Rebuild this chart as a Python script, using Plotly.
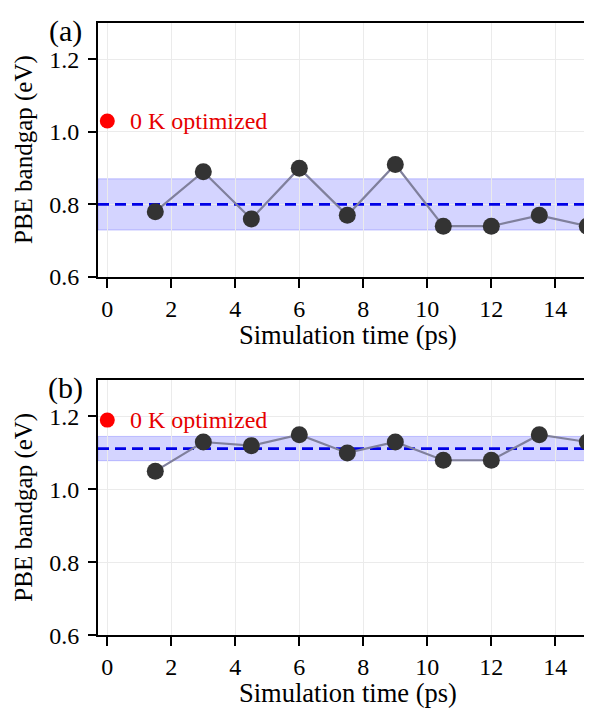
import numpy as np
import plotly.graph_objects as go

# ---- data ----
time_ps = [1.5, 3.0, 4.5, 6.0, 7.5, 9.0, 10.5, 12.0, 13.5, 15.0]
gap_a = [0.78, 0.89, 0.76, 0.90, 0.77, 0.91, 0.74, 0.74, 0.77, 0.74]
gap_b = [1.05, 1.13, 1.12, 1.15, 1.10, 1.13, 1.08, 1.08, 1.15, 1.13]
opt_a = 1.03
opt_b = 1.19
panel_labels = ["(a)", "(b)"]
x_ticks = [0, 2, 4, 6, 8, 10, 12, 14]
y_ticks = [0.6, 0.8, 1.0, 1.2]

# page has an 8px body margin; work in window pixels and shift
OFF = 8
WIN_W, WIN_H = 592, 711
W, H = WIN_W - OFF, WIN_H - OFF
FONT = "Liberation Serif"


def px_x(v):
    return (v - OFF) / W


def px_y(v):
    return 1 - (v - OFF) / H


fig = go.Figure()

left_px = 98
x0_px = 107.3      # window pixel of x = 0
px_per_unit = 32.0
panels = [
    dict(top=23, bottom=277, data=gap_a, opt=opt_a, label=panel_labels[0], ax=""),
    dict(top=380, bottom=635.3, data=gap_b, opt=opt_b, label=panel_labels[1], ax="2"),
]

x_range = [(left_px - x0_px) / px_per_unit, (WIN_W - x0_px) / px_per_unit]

shapes = []
annotations = []
for p in panels:
    ax = p["ax"]
    xr = "x" + ax
    yr = "y" + ax
    vals = np.array(p["data"])
    mean = float(vals.mean())
    std = float(vals.std(ddof=1))

    shapes.append(dict(type="rect", xref=xr, yref=yr, x0=x_range[0], x1=x_range[1],
                       y0=mean - std, y1=mean + std,
                       fillcolor="rgba(0,0,255,0.17)",
                       line=dict(color="rgba(60,60,255,0.28)", width=1),
                       layer="below"))

    fig.add_trace(go.Scatter(x=x_range, y=[mean, mean], mode="lines",
                             line=dict(color="#0000e6", width=2.8, dash="11px,6px"),
                             xaxis=xr, yaxis=yr, showlegend=False, hoverinfo="skip"))
    fig.add_trace(go.Scatter(x=time_ps, y=p["data"], mode="lines+markers",
                             line=dict(color="#80809c", width=2.2),
                             marker=dict(size=17, color="#333333"),
                             xaxis=xr, yaxis=yr, showlegend=False))
    fig.add_trace(go.Scatter(x=[0], y=[p["opt"]], mode="markers",
                             marker=dict(size=15, color="#ff0000"),
                             xaxis=xr, yaxis=yr, showlegend=False, cliponaxis=False))
    annotations.append(dict(x=0.66, y=p["opt"], xref=xr, yref=yr, text="0 K optimized",
                            showarrow=False, xanchor="left", yanchor="middle",
                            font=dict(family=FONT, size=24, color="#e60000")))
    annotations.append(dict(x=px_x(65), y=px_y(p["top"] + 8), xref="paper", yref="paper",
                            text=p["label"], showarrow=False, xanchor="center", yanchor="middle",
                            font=dict(family=FONT, size=30, color="black")))
    annotations.append(dict(x=px_x(24), y=px_y((p["top"] + p["bottom"]) / 2),
                            xref="paper", yref="paper", text="PBE bandgap (eV)",
                            textangle=-90, showarrow=False, xanchor="center", yanchor="middle",
                            font=dict(family=FONT, size=25, color="black")))
    annotations.append(dict(x=px_x(348), y=px_y(p["bottom"] + 58),
                            xref="paper", yref="paper", text="Simulation time (ps)",
                            showarrow=False, xanchor="center", yanchor="middle",
                            font=dict(family=FONT, size=26.5, color="black")))

xcommon = dict(range=x_range, domain=[px_x(left_px), 1.0], tickvals=x_ticks,
               ticktext=[str(v) for v in x_ticks],
               showline=True, linecolor="black", linewidth=2, mirror=True,
               ticks="outside", ticklen=9, tickwidth=2, tickcolor="black",
               showgrid=True, gridcolor="#ebebeb", gridwidth=1, zeroline=False,
               tickfont=dict(family=FONT, size=24, color="black"))
ycommon = dict(range=[0.6, 1.3], tickvals=y_ticks,
               ticktext=[f"{v:.1f}" for v in y_ticks],
               showline=True, linecolor="black", linewidth=2, mirror=False,
               ticks="outside", ticklen=8, tickwidth=2, tickcolor="black",
               showgrid=True, gridcolor="#ebebeb", gridwidth=1, zeroline=False,
               ticklabelstandoff=4,
               tickfont=dict(family=FONT, size=24, color="black"))

fig.update_layout(
    width=W, height=H,
    margin=dict(l=0, r=0, t=0, b=0, autoexpand=False),
    paper_bgcolor="white", plot_bgcolor="white",
    xaxis=dict(**xcommon, anchor="y"),
    yaxis=dict(**ycommon, anchor="x",
               domain=[px_y(panels[0]["bottom"]), px_y(panels[0]["top"])]),
    xaxis2=dict(**xcommon, anchor="y2"),
    yaxis2=dict(**ycommon, anchor="x2",
                domain=[px_y(panels[1]["bottom"]), px_y(panels[1]["top"])]),
    shapes=shapes,
    annotations=annotations,
    showlegend=False,
)

fig.write_html("out.html")
